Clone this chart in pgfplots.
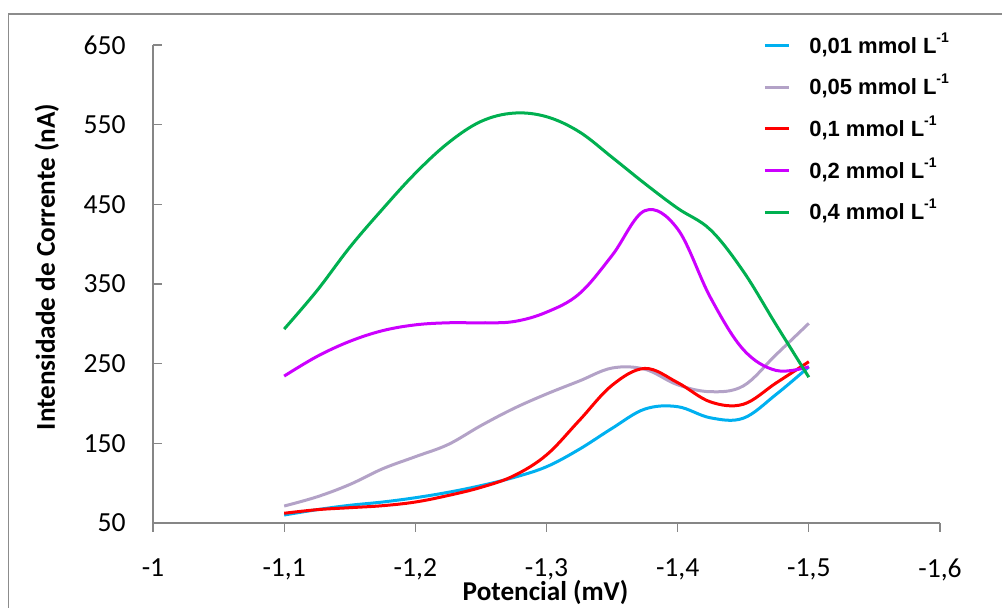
\documentclass[border=0pt]{standalone}
\usepackage{fontspec}
\setmainfont{Carlito}
\newfontfamily\legendfont{Liberation Sans}
\usepackage{pgfplots}
\pgfplotsset{compat=1.18}

\definecolor{cA}{HTML}{00B0F0}
\definecolor{cB}{HTML}{B3A2C7}
\definecolor{cC}{HTML}{FF0000}
\definecolor{cD}{HTML}{CC00FF}
\definecolor{cE}{HTML}{00B050}
\definecolor{axisgray}{HTML}{868686}
\definecolor{framegray}{HTML}{8C8C8C}

\newcommand{\conc}[1]{{\legendfont\bfseries\fontsize{11}{13}\selectfont #1 mmol L\raisebox{5.5pt}{\fontsize{7}{7}\selectfont -1}}}

\begin{document}
\begin{tikzpicture}
\useasboundingbox (0,0) rectangle (501pt,304pt);
\clip (0,0) rectangle (501pt,304pt);
% outer chart frame
\draw[framegray, line width=0.8pt] (4.2pt,297pt) rectangle (520pt,-20pt);
\begin{axis}[
  at={(273.25pt,162pt)}, anchor=center,
  scale only axis, width=393.5pt, height=239pt,
  x dir=reverse,
  xmin=-1.6, xmax=-1, ymin=50, ymax=650,
  axis x line*=bottom, axis y line*=left,
  axis line style={draw=axisgray, line width=0.6pt, -},
  tick align=inside,
  major tick length=4.5pt,
  tick style={axisgray, line width=0.6pt},
  major x tick style={yshift=-4.5pt},
  xtick={-1,-1.1,-1.2,-1.3,-1.4,-1.5,-1.6},
  xticklabels={{-1},{-1,1},{-1,2},{-1,3},{-1,4},{-1,5},{-1,6}},
  ytick={50,150,...,650},
  /pgf/number format/assume math mode=true,
  tick label style={font=\fontsize{13.8}{16}\selectfont},
  yticklabel style={anchor=east, inner sep=0pt, xshift=-13.5pt},
  xticklabel style={anchor=north, inner sep=0pt, yshift=-17.5pt},
  no markers,
  every axis plot/.append style={line width=1.5pt, smooth, tension=0.6},
  legend style={at={(axis description cs:0.775,1.027)}, anchor=north west,
    draw=none, fill=none, inner sep=0pt, row sep=9pt, column sep=9.5pt,
    cells={anchor=base west}, nodes={inner sep=0pt}},
  legend image code/.code={\draw[#1, line width=1.5pt] (0pt,3.8pt) -- (12pt,3.8pt);},
]
\addplot[cA] coordinates {
 (-1.1,60) (-1.125,66.7) (-1.15,72.2) (-1.175,76.3) (-1.2,81.7) (-1.225,88.5)
 (-1.25,96.9) (-1.275,107.1) (-1.3,120.6) (-1.325,142.5) (-1.35,168.8)
 (-1.375,193) (-1.4,196) (-1.425,182) (-1.45,181.5)
 (-1.475,211.3) (-1.5,246)};
\addlegendentry{\conc{0,01}}
\addplot[cB] coordinates {
 (-1.1,71.3) (-1.125,82.8) (-1.15,98.3) (-1.175,118) (-1.2,133.2) (-1.225,148.5)
 (-1.25,172.2) (-1.275,193.7) (-1.3,211.9) (-1.325,228.2) (-1.35,244.5)
 (-1.375,243) (-1.4,223.5) (-1.425,214.8) (-1.45,222)
 (-1.475,261.2) (-1.5,300.6)};
\addlegendentry{\conc{0,05}}
\addplot[cC] coordinates {
 (-1.1,62.2) (-1.125,66.7) (-1.15,69.2) (-1.175,71.7) (-1.2,76.3) (-1.225,84.5)
 (-1.25,94.7) (-1.275,109.2) (-1.3,135.4) (-1.325,178.7) (-1.35,222.9)
 (-1.375,244) (-1.4,226.2) (-1.425,202) (-1.45,199)
 (-1.475,225.7) (-1.5,252.4)};
\addlegendentry{\conc{0,1}}
\addplot[cD] coordinates {
 (-1.1,234.4) (-1.125,259) (-1.15,278) (-1.175,291.4) (-1.2,298.7) (-1.225,301.3)
 (-1.25,301.3) (-1.275,302.8) (-1.3,314.6) (-1.325,337.7) (-1.35,385.8)
 (-1.375,442) (-1.4,419) (-1.425,333) (-1.45,267.8)
 (-1.475,241.5) (-1.5,246)};
\addlegendentry{\conc{0,2}}
\addplot[cE] coordinates {
 (-1.1,293.4) (-1.125,341.6) (-1.15,396) (-1.175,444) (-1.2,489) (-1.225,527)
 (-1.25,554) (-1.275,564.5) (-1.3,560) (-1.325,541) (-1.35,509) (-1.375,476)
 (-1.4,445) (-1.425,418) (-1.45,366) (-1.475,299) (-1.5,233)};
\addlegendentry{\conc{0,4}}
\end{axis}
% axis titles
\node[rotate=90, anchor=base, font=\bfseries\fontsize{13.6}{16}\selectfont]
  at (27.5pt,170.5pt) {Intensidade de Corrente (nA)};
\node[anchor=base, font=\bfseries\fontsize{13.6}{16}\selectfont]
  at (272.75pt,3.5pt) {Potencial (mV)};
\end{tikzpicture}
\end{document}
